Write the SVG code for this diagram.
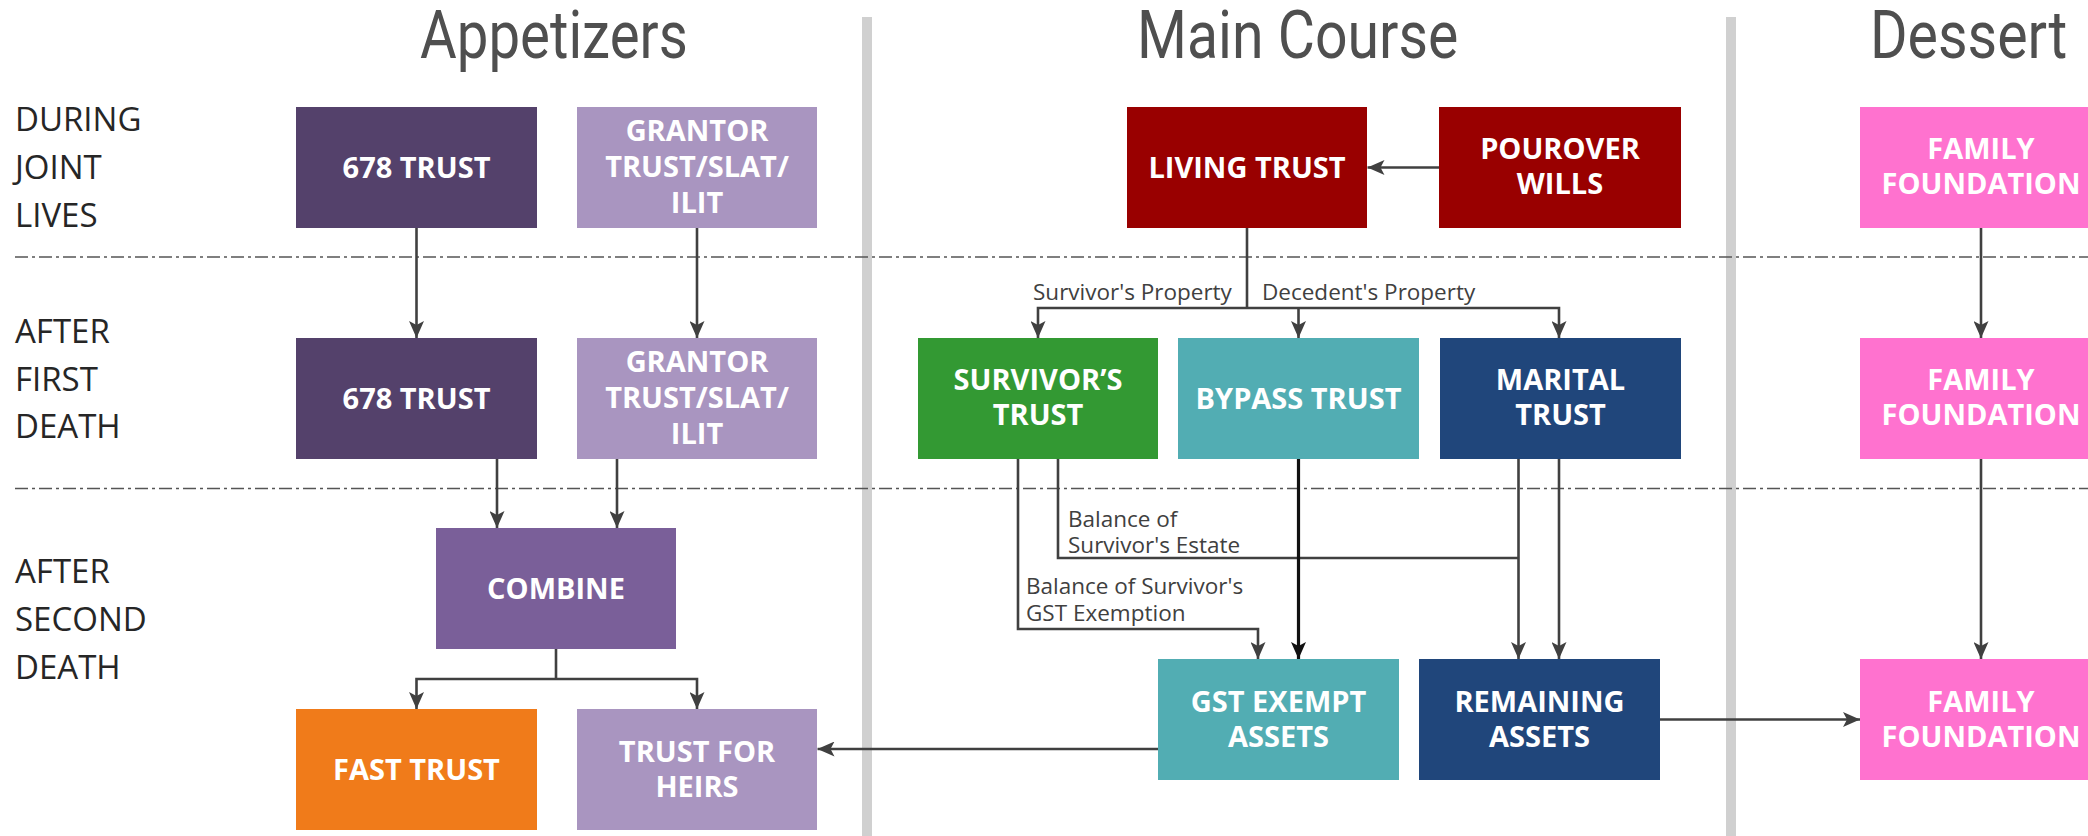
<svg xmlns="http://www.w3.org/2000/svg" width="2088" height="836" viewBox="0 0 2088 836">
<defs>
<style>
.hdr{font-family:Roboto,"Liberation Sans",sans-serif;font-weight:400;font-size:66px;fill:#4f4f4f}
.row{font-family:"Open Sans","Liberation Sans",sans-serif;font-size:33px;fill:#262626}
.bx{font-family:"Open Sans","Liberation Sans",sans-serif;font-weight:700;font-size:29px;fill:#ffffff;text-anchor:middle}
.lbl{font-family:"Open Sans","Liberation Sans",sans-serif;font-size:22.5px;fill:#404040}
.div{fill:#d0d0d0}
.dash{stroke:#555555;stroke-width:1.4;stroke-dasharray:13 4 3 4;fill:none}
.c{stroke:#404040;stroke-width:2.6;fill:none}
.cb{stroke:#111111;stroke-width:3.2;fill:none}
</style>
<marker id="ah" viewBox="0 0 17 15" refX="17" refY="7.5" markerWidth="17" markerHeight="15" markerUnits="userSpaceOnUse" orient="auto">
<path d="M0,0 L17,7.5 L0,15 L4,7.5 Z" fill="#404040"/>
</marker>
<marker id="ahb" viewBox="0 0 17 15" refX="17" refY="7.5" markerWidth="17" markerHeight="15" markerUnits="userSpaceOnUse" orient="auto">
<path d="M0,0 L17,7.5 L0,15 L4,7.5 Z" fill="#111111"/>
</marker>
</defs>
<rect width="2088" height="836" fill="#ffffff"/>

<g id="headers">
<text class="hdr" transform="translate(420,58) scale(0.85,1)" textLength="315" lengthAdjust="spacingAndGlyphs">Appetizers</text>
<text class="hdr" transform="translate(1137,58) scale(0.85,1)" textLength="378" lengthAdjust="spacingAndGlyphs">Main Course</text>
<text class="hdr" transform="translate(1870,58) scale(0.85,1)" textLength="232" lengthAdjust="spacingAndGlyphs">Dessert</text>
</g>

<g id="dividers">
<rect class="div" x="862" y="17" width="10" height="819"/>
<rect class="div" x="1726" y="17" width="10" height="819"/>
<line class="dash" x1="15" y1="257" x2="2088" y2="257"/>
<line class="dash" x1="15" y1="488.5" x2="2088" y2="488.5"/>
</g>

<g id="row-labels">
<text class="row" x="15" y="131">DURING</text>
<text class="row" x="15" y="179">JOINT</text>
<text class="row" x="15" y="227">LIVES</text>
<text class="row" x="15" y="343">AFTER</text>
<text class="row" x="15" y="391">FIRST</text>
<text class="row" x="15" y="438">DEATH</text>
<text class="row" x="15" y="583">AFTER</text>
<text class="row" x="15" y="631">SECOND</text>
<text class="row" x="15" y="679">DEATH</text>
</g>

<g id="connectors">
<path class="c" d="M416.5,228 V338" marker-end="url(#ah)"/>
<path class="c" d="M697,228 V338" marker-end="url(#ah)"/>
<path class="c" d="M1439,167.5 H1367.5" marker-end="url(#ah)"/>
<path class="c" d="M1247,228 V308"/>
<path class="c" d="M1247,308 H1038 V338" marker-end="url(#ah)"/>
<path class="c" d="M1247,308 H1559 V338" marker-end="url(#ah)"/>
<path class="c" d="M1298.5,308 V338" marker-end="url(#ah)"/>
<path class="c" d="M1981,228 V338" marker-end="url(#ah)"/>
<path class="c" d="M497,459 V528" marker-end="url(#ah)"/>
<path class="c" d="M617,459 V528" marker-end="url(#ah)"/>
<path class="c" d="M556,649 V679"/>
<path class="c" d="M556,679 H416.5 V709" marker-end="url(#ah)"/>
<path class="c" d="M556,679 H697 V709" marker-end="url(#ah)"/>
<path class="c" d="M1018,459 V629 H1258 V659" marker-end="url(#ah)"/>
<path class="c" d="M1058,459 V558 H1518.5"/>
<path class="cb" d="M1298.5,459 V659" marker-end="url(#ahb)"/>
<path class="c" d="M1518.5,459 V659" marker-end="url(#ah)"/>
<path class="c" d="M1559,459 V659" marker-end="url(#ah)"/>
<path class="c" d="M1981,459 V659" marker-end="url(#ah)"/>
<path class="c" d="M1158,749 H817.5" marker-end="url(#ah)"/>
<path class="c" d="M1660,719.5 H1860" marker-end="url(#ah)"/>
<text class="lbl" x="1033" y="300">Survivor's Property</text>
<text class="lbl" x="1262" y="300">Decedent's Property</text>
<text class="lbl" x="1068" y="527">Balance of</text>
<text class="lbl" x="1068" y="553">Survivor's Estate</text>
<text class="lbl" x="1026" y="594">Balance of Survivor's</text>
<text class="lbl" x="1026" y="621">GST Exemption</text>
</g>

<g id="trust678-1"><rect x="296" y="107" width="241" height="121" fill="#54416b"/><text class="bx" x="416.5" y="178">678 TRUST</text></g>
<g id="grantor-1"><rect x="577" y="107" width="240" height="121" fill="#a995c0"/><text class="bx" x="697" y="141">GRANTOR</text><text class="bx" x="697" y="177">TRUST/SLAT/</text><text class="bx" x="697" y="213">ILIT</text></g>
<g id="living-trust"><rect x="1127" y="107" width="240" height="121" fill="#990000"/><text class="bx" x="1247" y="178">LIVING TRUST</text></g>
<g id="pourover-wills"><rect x="1439" y="107" width="242" height="121" fill="#990000"/><text class="bx" x="1560" y="159">POUROVER</text><text class="bx" x="1560" y="194">WILLS</text></g>
<g id="family-1"><rect x="1860" y="107" width="242" height="121" fill="#ff72cf"/><text class="bx" x="1981" y="159">FAMILY</text><text class="bx" x="1981" y="194">FOUNDATION</text></g>

<g id="trust678-2"><rect x="296" y="338" width="241" height="121" fill="#54416b"/><text class="bx" x="416.5" y="409">678 TRUST</text></g>
<g id="grantor-2"><rect x="577" y="338" width="240" height="121" fill="#a995c0"/><text class="bx" x="697" y="372">GRANTOR</text><text class="bx" x="697" y="408">TRUST/SLAT/</text><text class="bx" x="697" y="444">ILIT</text></g>
<g id="survivors-trust"><rect x="918" y="338" width="240" height="121" fill="#339933"/><text class="bx" x="1038" y="390">SURVIVOR’S</text><text class="bx" x="1038" y="425">TRUST</text></g>
<g id="bypass-trust"><rect x="1178" y="338" width="241" height="121" fill="#52adb3"/><text class="bx" x="1298.5" y="409">BYPASS TRUST</text></g>
<g id="marital-trust"><rect x="1440" y="338" width="241" height="121" fill="#20467b"/><text class="bx" x="1560.5" y="390">MARITAL</text><text class="bx" x="1560.5" y="425">TRUST</text></g>
<g id="family-2"><rect x="1860" y="338" width="242" height="121" fill="#ff72cf"/><text class="bx" x="1981" y="390">FAMILY</text><text class="bx" x="1981" y="425">FOUNDATION</text></g>

<g id="combine"><rect x="436" y="528" width="240" height="121" fill="#7a5f99"/><text class="bx" x="556" y="599">COMBINE</text></g>
<g id="fast-trust"><rect x="296" y="709" width="241" height="121" fill="#f07b1a"/><text class="bx" x="416.5" y="780">FAST TRUST</text></g>
<g id="trust-for-heirs"><rect x="577" y="709" width="240" height="121" fill="#a995c0"/><text class="bx" x="697" y="761.5">TRUST FOR</text><text class="bx" x="697" y="796.5">HEIRS</text></g>
<g id="gst-exempt"><rect x="1158" y="659" width="241" height="121" fill="#52adb3"/><text class="bx" x="1278.5" y="711.5">GST EXEMPT</text><text class="bx" x="1278.5" y="746.5">ASSETS</text></g>
<g id="remaining-assets"><rect x="1419" y="659" width="241" height="121" fill="#20467b"/><text class="bx" x="1539.5" y="711.5">REMAINING</text><text class="bx" x="1539.5" y="746.5">ASSETS</text></g>
<g id="family-3"><rect x="1860" y="659" width="242" height="121" fill="#ff72cf"/><text class="bx" x="1981" y="711.5">FAMILY</text><text class="bx" x="1981" y="746.5">FOUNDATION</text></g>
</svg>
